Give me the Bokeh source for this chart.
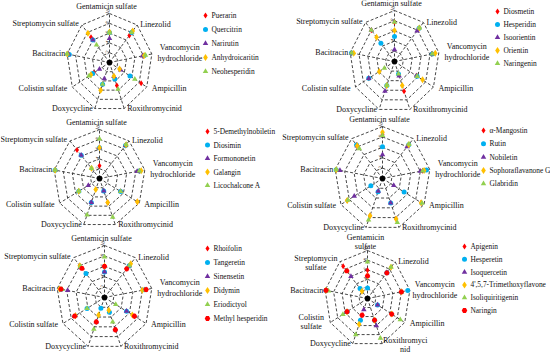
import numpy as np
from bokeh.plotting import figure
from bokeh.models import Range1d
from bokeh.core.properties import value
from bokeh.embed import file_html
from bokeh.resources import INLINE

# ---------------- data ----------------
axis_names = ["Gentamicin sulfate", "Linezolid", "Vancomycin hydrochloride", "Ampicillin",
              "Roxithromycinid", "Doxycycline", "Colistin sulfate", "Bacitracin",
              "Streptomycin sulfate"]
ring_values = [-2, -4, -6, -8, -10]
ring_labels = ["-2", "-4", "-6", "-8", "-10"]
r_min, r_max = 0.0, -10.0

p1_names = ["Puerarin", "Quercitrin", "Narirutin", "Anhydroicaritin", "Neohesperidin"]
p1_puerarin = [-6.1, -7.2, -8.0, -8.5, -5.0, -4.7, -4.2, -9.7, -6.7]
p1_quercitrin = [-6.1, -8.0, -8.2, -5.5, -3.6, -4.7, -4.5, -9.5, -6.0]
p1_narirutin = [-4.9, -8.0, -7.8, -3.0, -3.0, -3.5, -2.7, -9.7, -6.0]
p1_anhydroicaritin = [-6.2, -8.4, -8.2, -2.7, -3.0, -6.0, -5.0, -10.0, -7.8]
p1_neohesperidin = [-6.1, -8.0, -8.5, -6.8, -5.8, -4.7, -5.5, -10.0, -4.7]

p2_names = ["Diosmetin", "Hesperidin", "Isoorientin", "Orientin", "Naringenin"]
p2_diosmetin = [-7.7, -8.5, -8.4, -5.6, -6.2, -5.0, -6.6, -9.7, -8.0]
p2_hesperidin = [-4.9, -8.5, -8.5, -5.8, -2.6, -5.0, -6.6, -9.7, -4.7]
p2_isoorientin = [-2.3, -7.8, -8.5, -5.7, -3.0, -6.2, -6.6, -9.7, -8.0]
p2_orientin = [-6.1, -8.6, -9.2, -7.2, -5.0, -5.0, -3.9, -9.2, -6.2]
p2_naringenin = [-7.7, -8.6, -8.5, -5.8, -2.6, -5.0, -2.6, -9.7, -8.0]

p3_names = ["5-Demethylnobiletin", "Diosimin", "Formononetin", "Galangin", "Licochalcone A"]
p3_demethylnobiletin = [-2.6, -8.8, -8.8, -9.5, -5.2, -5.2, -5.2, -9.8, -7.6]
p3_diosimin = [-6.3, -8.8, -8.8, -5.3, -2.7, -5.2, -5.2, -9.8, -6.2]
p3_formononetin = [-6.3, -8.8, -8.3, -5.3, -2.7, -5.2, -2.8, -9.8, -6.2]
p3_galangin = [-6.3, -9.0, -9.2, -9.5, -5.2, -2.4, -5.2, -9.8, -2.7]
p3_licochalcone = [-8.1, -9.0, -8.8, -5.3, -8.4, -7.9, -5.2, -9.8, -2.7]

p4_names = ["\u03b1-Mangostin", "Rutin", "Nobiletin", "Sophoraflavanone G", "Glabridin"]
p4_mangostin = [-8.5, -8.5, -8.5, -9.3, -8.3, -7.6, -8.5, -9.8, -8.4]
p4_rutin = [-6.1, -8.5, -9.3, -5.2, -5.0, -2.7, -2.8, -9.8, -8.4]
p4_nobiletin = [-4.6, -8.0, -8.0, -2.7, -5.0, -2.6, -6.8, -9.0, -8.2]
p4_sophoraflavanone = [-8.9, -8.5, -8.8, -9.3, -8.3, -7.6, -8.5, -9.8, -8.2]
p4_glabridin = [-8.3, -8.6, -8.5, -9.5, -9.0, -8.5, -8.3, -9.8, -7.5]

p5_names = ["Rhoifolin", "Tangeretin", "Sinensetin", "Didymin", "Eriodictyol", "Methyl hesperidin"]
p5_rhoifolin = [-6.0, -7.2, -8.8, -7.2, -6.6, -5.0, -7.0, -9.2, -8.0]
p5_tangeretin = [-4.9, -8.0, -8.5, -5.3, -3.0, -2.2, -4.2, -9.2, -6.0]
p5_sinensetin = [-4.9, -8.0, -8.5, -5.3, -6.6, -5.0, -7.0, -7.8, -7.3]
p5_didymin = [-6.0, -8.5, -8.0, -6.7, -2.6, -3.6, -7.0, -9.5, -8.0]
p5_eriodictyol = [-7.8, -8.0, -8.5, -2.7, -5.0, -6.5, -4.2, -9.0, -7.8]
p5_methyl_hesperidin = [-6.0, -7.2, -8.8, -7.2, -6.6, -5.0, -7.2, -9.2, -7.3]

p6_names = ["Apigenin", "Hesperetin", "Isoquercetin", "4',5,7-Trimethoxyflavone",
            "Isoliquiritigenin", "Naringin"]
p6_apigenin = [-5.9, -7.0, -8.0, -6.5, -4.8, -3.7, -5.5, -9.8, -8.8]
p6_hesperetin = [-2.2, -7.0, -9.5, -2.7, -4.8, -4.8, -5.5, -9.8, -2.7]
p6_isoquercetin = [-4.7, -7.0, -8.0, -2.7, -6.0, -2.5, -5.5, -9.8, -6.0]
p6_trimethoxyflavone = [-4.7, -8.5, -8.0, -6.5, -4.8, -5.7, -5.5, -9.8, -2.0]
p6_isoliquiritigenin = [-7.6, -8.5, -8.0, -8.8, -8.8, -8.0, -6.6, -9.2, -7.5]
p6_naringin = [-4.7, -7.0, -8.0, -6.5, -4.8, -3.7, -5.5, -9.8, -7.5]

# ---------------- styles ----------------
COLORS = ["#FF0000", "#00B0F0", "#7030A0", "#FFC000", "#92D050", "#FF0000"]
MARKERS = ["diamond", "circle", "triangle", "diamond", "triangle", "hex"]
SIZES = [6, 5, 5.5, 7, 5.5, 5.5]
FONT = value("Liberation Serif")
FS = "8px"
LEG_FS = "7.4px"
LINE_COLOR = "#333333"

panels = [
    dict(cx=109, cy=62, rx=43, ry=49, lx=205, ly=15, ldy=14, names=p1_names,
         series=[p1_puerarin, p1_quercitrin, p1_narirutin, p1_anhydroicaritin, p1_neohesperidin], two=False),
    dict(cx=394, cy=61, rx=45, ry=51, lx=497, ly=11, ldy=13, names=p2_names,
         series=[p2_diosmetin, p2_hesperidin, p2_isoorientin, p2_orientin, p2_naringenin], two=False),
    dict(cx=99, cy=178, rx=46, ry=49, lx=207, ly=131, ldy=13.5, names=p3_names,
         series=[p3_demethylnobiletin, p3_diosimin, p3_formononetin, p3_galangin, p3_licochalcone], two=False),
    dict(cx=382, cy=178, rx=48, ry=52, lx=483, ly=130, ldy=13.3, names=p4_names,
         series=[p4_mangostin, p4_rutin, p4_nobiletin, p4_sophoraflavanone, p4_glabridin], two=False),
    dict(cx=104, cy=297, rx=48, ry=52, lx=207, ly=248, ldy=14, names=p5_names,
         series=[p5_rhoifolin, p5_tangeretin, p5_sinensetin, p5_didymin, p5_eriodictyol,
                 p5_methyl_hesperidin], two=False),
    dict(cx=367, cy=298, rx=43, ry=48, lx=464, ly=246, ldy=12.8, names=p6_names,
         series=[p6_apigenin, p6_hesperetin, p6_isoquercetin, p6_trimethoxyflavone,
                 p6_isoliquiritigenin, p6_naringin], two=True),
]

W, H = 550, 354
p = figure(width=W, height=H, output_backend="svg", toolbar_location=None,
           x_range=Range1d(0, W), y_range=Range1d(H, 0), min_border=0)
p.axis.visible = False
p.grid.visible = False
p.outline_line_color = None
p.background_fill_color = "white"

n = len(axis_names)
theta = np.arange(n) * 2 * np.pi / n


def frac(v):
    return (np.asarray(v, dtype=float) - r_min) / (r_max - r_min)


def txt(x, y, t, align="left", baseline="middle", size=FS, angle=0.0):
    p.text(x=[x], y=[y], text=[t], text_align=align, text_baseline=baseline,
           text_font=FONT, text_font_size=size, text_color="#111111", angle=angle)


for pn in panels:
    cx, cy, rx, ry = pn["cx"], pn["cy"], pn["rx"], pn["ry"]
    sx = np.sin(theta)
    sy = -np.cos(theta)
    # rings
    xs, ys = [], []
    for rv in ring_values:
        f = frac(rv)
        xr = list(cx + rx * f * sx) + [cx + rx * f * sx[0]]
        yr = list(cy + ry * f * sy) + [cy + ry * f * sy[0]]
        xs.append(xr)
        ys.append(yr)
    # spokes
    for k in range(n):
        xs.append([cx, cx + rx * sx[k]])
        ys.append([cy, cy + ry * sy[k]])
    p.multi_line(xs=xs, ys=ys, line_color=LINE_COLOR, line_width=0.9, line_dash="3 2")
    # radial tick labels along top spoke
    for rv, lab in zip(ring_values, ring_labels):
        f = frac(rv)
        txt(cx - 3, cy - ry * f + 2, lab, align="left", baseline="middle", size="5px", angle=1.25)
    p.scatter(x=[cx], y=[cy], size=5, color="black", marker="circle")
    # series points
    for i, vals in enumerate(pn["series"]):
        f = frac(vals)
        p.scatter(x=cx + rx * f * sx, y=cy + ry * f * sy, marker=MARKERS[i], size=SIZES[i],
                  fill_color=COLORS[i], line_color=None)
    # axis labels
    vx = cx + rx * sx
    vy = cy + ry * sy
    if not pn["two"]:
        txt(vx[0] - 3, vy[0] - 7, axis_names[0], align="center")
        txt(vx[4] + 3, vy[4], axis_names[4])
        txt(vx[6] - 5, vy[6] + 1, axis_names[6], align="right")
        txt(vx[8] - 3, vy[8] - 1, axis_names[8], align="right")
    else:
        g = axis_names[0].split(" ")
        txt(vx[0] - 2, vy[0] - 13, g[0], align="center")
        txt(vx[0] - 2, vy[0] - 4, g[1], align="center")
        rname = axis_names[4]
        txt(vx[4] + 23, vy[4] - 3, rname[:12], align="center")
        txt(vx[4] + 23, vy[4] + 6, rname[12:], align="center")
        c = axis_names[6].split(" ")
        txt(vx[6] - 19, vy[6] - 5, c[0], align="center")
        txt(vx[6] - 19, vy[6] + 4, c[1], align="center")
        s = axis_names[8].split(" ")
        txt(vx[8] - 24, vy[8] - 3, s[0], align="center")
        txt(vx[8] - 24, vy[8] + 6, s[1], align="center")
    txt(vx[1] + 3, vy[1], axis_names[1])
    vparts = axis_names[2].split(" ")
    off = 25 if pn["two"] else 28
    txt(vx[2] + off, vy[2] - 6, vparts[0], align="center")
    txt(vx[2] + off, vy[2] + 5, vparts[1], align="center")
    txt(vx[3] + 5, vy[3] + 1, axis_names[3])
    txt(vx[5] - 2, vy[5], axis_names[5], align="right")
    txt(vx[7] - 2, vy[7], axis_names[7], align="right")
    # legend
    for i, nm in enumerate(pn["names"]):
        yy = pn["ly"] + i * pn["ldy"]
        p.scatter(x=[pn["lx"]], y=[yy], marker=MARKERS[i], size=SIZES[i],
                  fill_color=COLORS[i], line_color=None)
        txt(pn["lx"] + 6, yy, nm, size=LEG_FS)

open("out.html", "w").write(file_html(p, INLINE))
